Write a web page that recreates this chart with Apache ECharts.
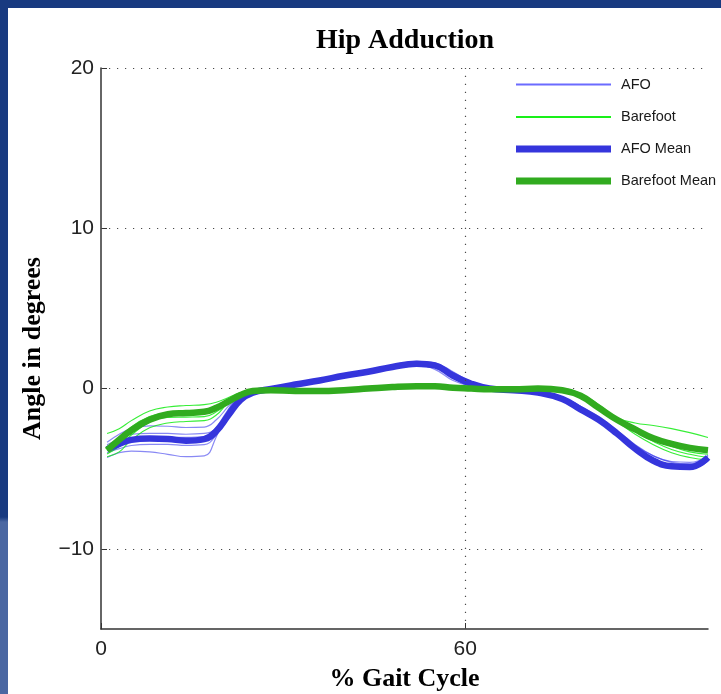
<!DOCTYPE html>
<html>
<head>
<meta charset="utf-8">
<script src="https://cdn.jsdelivr.net/npm/echarts@6/dist/echarts.min.js"></script>
<style>
  html, body { margin: 0; padding: 0; width: 721px; height: 694px; overflow: hidden;
    background: linear-gradient(to bottom, #183a80 0px, #183a80 517px, #4a67a2 522px, #4a67a2 694px); }
  #chart { position: absolute; left: 8px; top: 8px; width: 713px; height: 686px; background: #ffffff; }
</style>
</head>
<body>
<div id="chart"></div>
<script>
// % gait cycle sample points
const gaitPct = [1, 3, 5, 8, 11, 14, 17, 19, 21, 23, 25, 28, 32, 36, 40, 44, 48, 52, 55, 58, 61, 64, 68, 72, 76, 79, 82, 85, 88, 91, 94, 97, 100];

// AFO individual trials
const afoTrial1 = [-4.3, -4.0, -3.9, -3.95, -4.1, -4.25, -4.2, -3.0, -1.3, -0.45, -0.1, 0.0, 0.2, 0.45, 0.7, 0.95, 1.25, 1.4, 1.3, 0.7, 0.25, 0.0, -0.15, -0.3, -0.7, -1.3, -2.0, -2.9, -3.8, -4.5, -4.9, -5.0, -4.5];
const afoTrial2 = [-3.35, -2.85, -2.5, -2.33, -2.35, -2.43, -2.4, -1.95, -1.1, -0.35, -0.05, 0.05, 0.3, 0.55, 0.85, 1.1, 1.4, 1.6, 1.55, 1.0, 0.35, 0.05, -0.05, -0.2, -0.55, -1.1, -1.8, -2.65, -3.55, -4.2, -4.55, -4.6, -4.2];
const afoTrial3 = [-3.5, -3.15, -2.85, -2.8, -2.8, -2.85, -2.8, -2.5, -1.6, -0.6, -0.2, 0.05, 0.3, 0.6, 0.9, 1.15, 1.45, 1.7, 1.6, 1.05, 0.4, 0.05, -0.1, -0.25, -0.6, -1.2, -1.9, -2.75, -3.7, -4.4, -4.8, -4.85, -4.4];
const afoTrial4 = [-4.0, -3.75, -3.55, -3.48, -3.48, -3.55, -3.5, -2.9, -1.8, -0.75, -0.25, 0.0, 0.2, 0.45, 0.75, 1.0, 1.3, 1.45, 1.2, 0.5, 0.15, -0.05, -0.15, -0.35, -0.75, -1.35, -2.05, -2.95, -3.85, -4.55, -4.95, -5.0, -4.5];
const afoTrial5 = [-3.65, -3.3, -3.1, -3.05, -3.05, -3.05, -3.0, -2.4, -1.3, -0.5, -0.15, 0.05, 0.3, 0.55, 0.85, 1.1, 1.4, 1.6, 1.5, 0.85, 0.3, 0.0, -0.1, -0.2, -0.55, -1.1, -1.75, -2.6, -3.5, -4.2, -4.6, -4.7, -4.15];

// Barefoot individual trials
const bareTrial1 = [-2.8, -2.5, -2.0, -1.4, -1.15, -1.06, -1.0, -0.85, -0.55, -0.25, -0.1, -0.1, -0.1, -0.1, -0.05, 0.05, 0.15, 0.2, 0.2, 0.1, 0.05, 0.0, 0.0, 0.05, 0.0, -0.3, -1.0, -1.8, -2.15, -2.3, -2.5, -2.75, -3.05];
const bareTrial2 = [-4.25, -3.95, -3.2, -2.45, -2.15, -2.05, -2.0, -1.65, -0.85, -0.3, -0.15, -0.15, -0.2, -0.2, -0.15, -0.05, 0.05, 0.1, 0.1, 0.0, -0.05, -0.1, -0.1, -0.05, -0.15, -0.5, -1.25, -2.05, -2.85, -3.5, -4.0, -4.3, -4.45];
const bareTrial3 = [-4.08, -3.6, -2.9, -2.1, -1.8, -1.78, -1.75, -1.45, -0.9, -0.35, -0.12, -0.1, -0.15, -0.15, -0.1, 0.0, 0.1, 0.15, 0.15, 0.05, 0.0, -0.05, -0.05, 0.0, -0.1, -0.45, -1.15, -1.95, -2.7, -3.3, -3.8, -4.1, -4.3];
const bareTrial4 = [-3.88, -3.2, -2.4, -1.75, -1.5, -1.42, -1.38, -1.15, -0.7, -0.3, -0.1, -0.08, -0.1, -0.1, -0.05, 0.05, 0.15, 0.2, 0.2, 0.1, 0.0, -0.05, 0.0, 0.0, -0.05, -0.4, -1.1, -1.85, -2.55, -3.15, -3.6, -3.95, -4.1];

// Means
const afoMean = [-3.8, -3.45, -3.2, -3.12, -3.15, -3.25, -3.15, -2.65, -1.65, -0.7, -0.25, -0.02, 0.25, 0.5, 0.8, 1.05, 1.35, 1.55, 1.45, 0.8, 0.3, 0.0, -0.1, -0.25, -0.65, -1.3, -1.95, -2.8, -3.75, -4.5, -4.85, -4.9, -4.3];
const barefootMean = [-3.85, -3.2, -2.6, -1.95, -1.6, -1.52, -1.45, -1.2, -0.8, -0.4, -0.15, -0.1, -0.15, -0.15, -0.1, 0.0, 0.1, 0.15, 0.15, 0.05, 0.0, -0.05, -0.05, 0.0, -0.1, -0.45, -1.2, -1.95, -2.55, -3.1, -3.45, -3.7, -3.85];

// Axis ticks / grid
const yTicks = [-10, 0, 10, 20];
const xTicks = [0, 60];
const xGridLines = [60];

const afoTrials = [afoTrial1, afoTrial2, afoTrial3, afoTrial4, afoTrial5];
const bareTrials = [bareTrial1, bareTrial2, bareTrial3, bareTrial4];

const pair = arr => gaitPct.map((x, i) => [x, arr[i]]);
const gridStyle = { color: '#4a4a4a', width: 1.2, type: [1.2, 6.8] };
const SMOOTH = 0.45;

const series = [];
afoTrials.forEach((t, k) => {
  const s = {
    name: 'AFO', type: 'line', data: pair(t), showSymbol: false, smooth: SMOOTH,
    lineStyle: { color: 'rgba(40,40,235,0.55)', width: 1.2 },
    itemStyle: { color: '#6b6bff' }, silent: true, z: 2
  };
  if (k === 0) {
    s.markLine = {
      silent: true, symbol: 'none', label: { show: false }, animation: false,
      lineStyle: gridStyle,
      data: yTicks.map(v => ({ yAxis: v })).concat(xGridLines.map(v => ({ xAxis: v })))
    };
  }
  series.push(s);
});
bareTrials.forEach(t => {
  series.push({
    name: 'Barefoot', type: 'line', data: pair(t), showSymbol: false, smooth: SMOOTH,
    lineStyle: { color: 'rgba(20,235,20,0.85)', width: 1.1 },
    itemStyle: { color: '#19f019' }, silent: true, z: 3
  });
});
series.push({
  name: 'AFO Mean', type: 'line', data: pair(afoMean), showSymbol: false, smooth: SMOOTH,
  lineStyle: { color: '#3535dc', width: 6.5 }, itemStyle: { color: '#3535dc' }, silent: true, z: 4
});
series.push({
  name: 'Barefoot Mean', type: 'line', data: pair(barefootMean), showSymbol: false, smooth: SMOOTH,
  lineStyle: { color: '#31ab1f', width: 6.5 }, itemStyle: { color: '#31ab1f' }, silent: true, z: 5
});

const legendItems = [
  { name: 'AFO', color: '#6b6bff', h: 2, top: 69 },
  { name: 'Barefoot', color: '#19f019', h: 2, top: 101.5 },
  { name: 'AFO Mean', color: '#3535dc', h: 7, top: 133.5 },
  { name: 'Barefoot Mean', color: '#31ab1f', h: 7, top: 165.5 }
];
const legends = legendItems.map(it => ({
  left: 508, top: it.top, padding: 0, orient: 'vertical', selectedMode: false,
  itemWidth: 95, itemHeight: it.h, icon: 'rect',
  textStyle: { fontFamily: 'Liberation Sans', fontSize: 14.5, color: '#1a1a1a', padding: [0, 0, 0, 5] },
  data: [{ name: it.name, icon: 'rect', itemStyle: { color: it.color, borderWidth: 0 } }]
}));

const chart = echarts.init(document.getElementById('chart'), null, { renderer: 'canvas' });
chart.setOption({
  animation: false,
  backgroundColor: '#ffffff',
  title: {
    text: 'Hip Adduction', left: 392, top: 14, textAlign: 'center',
    textStyle: { fontFamily: 'Liberation Serif', fontWeight: 'bold', fontSize: 28, color: '#000' }
  },
  legend: legends,
  grid: { left: 93, top: 60, right: 13, bottom: 65, containLabel: false, outerBoundsMode: 'none' },
  xAxis: {
    type: 'value', min: 0, max: 100,
    name: '% Gait Cycle', nameLocation: 'middle', nameGap: 37,
    nameTextStyle: { fontFamily: 'Liberation Serif', fontWeight: 'bold', fontSize: 26, color: '#000' },
    axisLine: { show: true, onZero: false, lineStyle: { color: '#333', width: 1.5 } },
    axisTick: { show: true, inside: true, length: 6, customValues: xTicks, lineStyle: { color: '#333' } },
    axisLabel: { customValues: xTicks, margin: 10, fontFamily: 'Liberation Sans', fontSize: 21, color: '#222' },
    splitLine: { show: false }
  },
  yAxis: {
    type: 'value', min: -15, max: 20,
    name: 'Angle in degrees', nameLocation: 'middle', nameGap: 55, nameRotate: 90,
    nameTextStyle: { fontFamily: 'Liberation Serif', fontWeight: 'bold', fontSize: 26, color: '#000' },
    axisLine: { show: true, onZero: false, lineStyle: { color: '#333', width: 1.5 } },
    axisTick: { show: true, inside: true, length: 6, customValues: yTicks, lineStyle: { color: '#333' } },
    axisLabel: {
      customValues: yTicks, margin: 7, fontFamily: 'Liberation Sans', fontSize: 21, color: '#222',
      formatter: v => (v < 0 ? '\u2212' + Math.abs(v) : String(v))
    },
    splitLine: { show: false }
  },
  series: series
});
</script>
</body>
</html>
